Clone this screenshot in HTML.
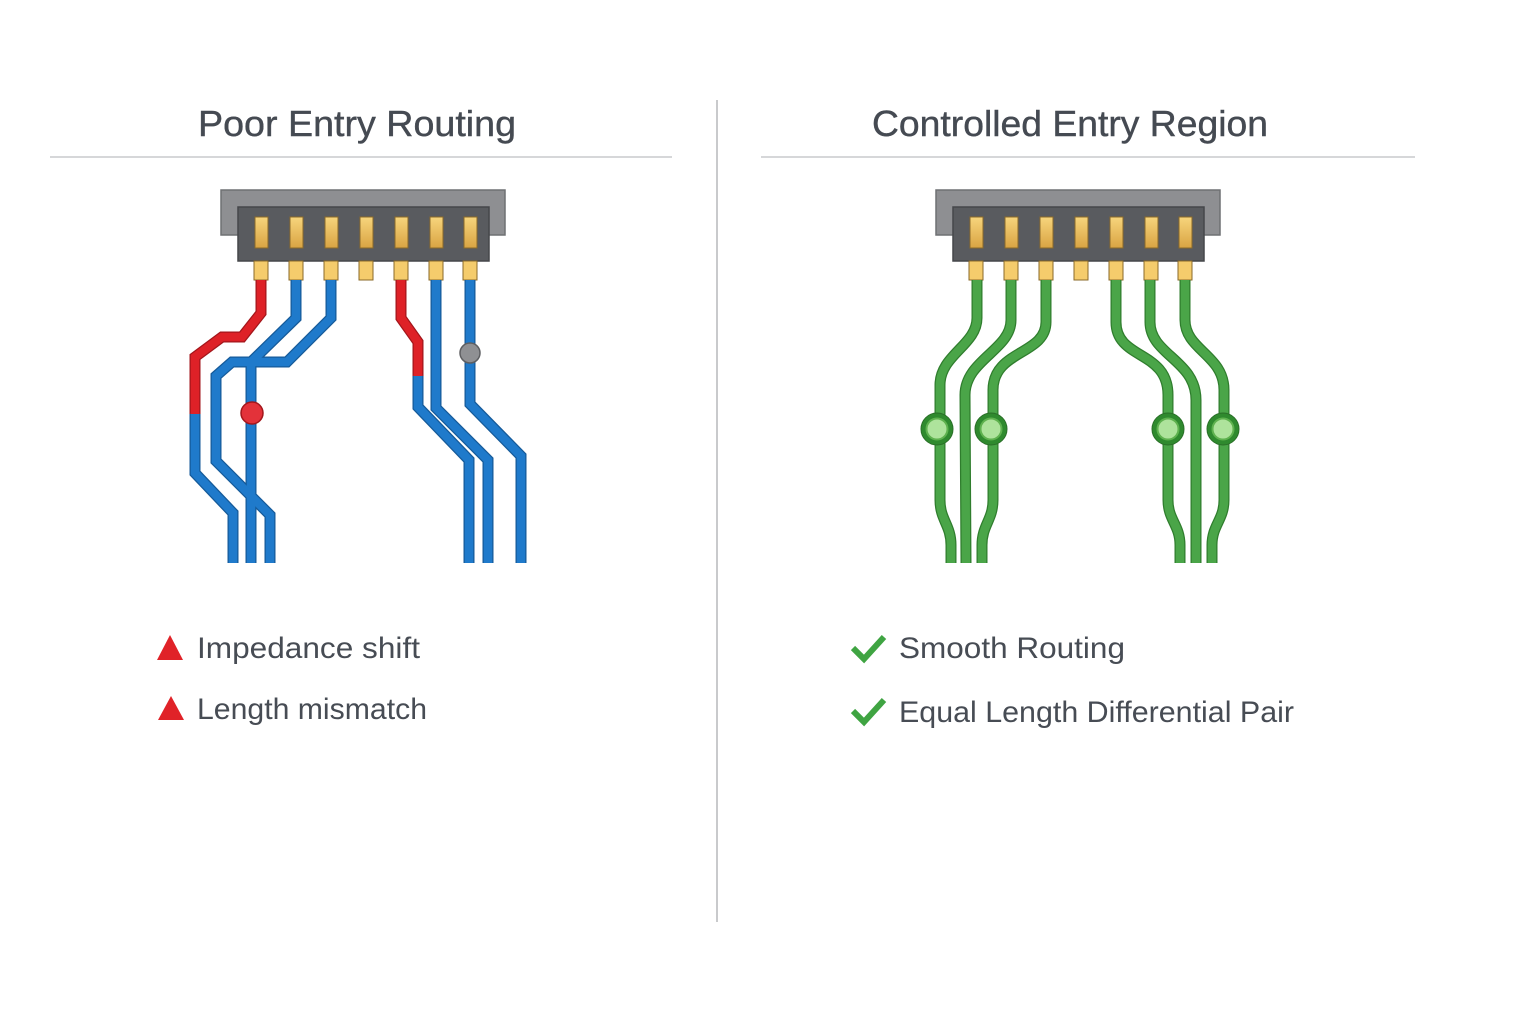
<!DOCTYPE html>
<html><head><meta charset="utf-8"><style>
html,body{margin:0;padding:0;background:#fff;}
svg{display:block;}
text{font-family:"Liberation Sans",sans-serif;fill:#474c54;}
</style></head><body>
<svg width="1536" height="1024" viewBox="0 0 1536 1024" xmlns="http://www.w3.org/2000/svg">
<defs>
<linearGradient id="pin" x1="0" y1="0" x2="0" y2="1"><stop offset="0" stop-color="#f7d57c"/><stop offset="1" stop-color="#d9a443"/></linearGradient>
<g id="conn">
  <rect x="221" y="190" width="284" height="45" fill="#8e8f92" stroke="#6f7073" stroke-width="1.5"/>
  <rect x="238" y="207" width="251" height="54" fill="#595b5f" stroke="#45474a" stroke-width="1.5"/>
  <g stroke="#8a6a2a" stroke-width="1" fill="url(#pin)">
    <rect x="255" y="217" width="13" height="31"/><rect x="290" y="217" width="13" height="31"/>
    <rect x="325" y="217" width="13" height="31"/><rect x="360" y="217" width="13" height="31"/>
    <rect x="395" y="217" width="13" height="31"/><rect x="430" y="217" width="13" height="31"/>
    <rect x="464" y="217" width="13" height="31"/>
  </g>
  <g stroke="#8a6a2a" stroke-width="1" fill="#f5cc6c">
    <rect x="254" y="261" width="14" height="19"/><rect x="289" y="261" width="14" height="19"/>
    <rect x="324" y="261" width="14" height="19"/><rect x="359" y="261" width="14" height="19"/>
    <rect x="394" y="261" width="14" height="19"/><rect x="429" y="261" width="14" height="19"/>
    <rect x="463" y="261" width="14" height="19"/>
  </g>
</g>
</defs>

<text x="357" y="136" font-size="36" text-anchor="middle" textLength="318" lengthAdjust="spacingAndGlyphs" style="fill:#454a52;stroke:#454a52;stroke-width:0.4">Poor Entry Routing</text>
<text x="1070" y="136" font-size="36" text-anchor="middle" textLength="396" lengthAdjust="spacingAndGlyphs" style="fill:#454a52;stroke:#454a52;stroke-width:0.4">Controlled Entry Region</text>
<line x1="50" y1="157" x2="672" y2="157" stroke="#d6d7d9" stroke-width="2"/>
<line x1="761" y1="157" x2="1415" y2="157" stroke="#d6d7d9" stroke-width="2"/>
<line x1="717" y1="100" x2="717" y2="922" stroke="#c9cacc" stroke-width="2"/>

<use href="#conn"/>
<g fill="none" stroke-linejoin="miter" stroke-linecap="butt">
  <g stroke="#155a99" stroke-width="11">
    <polyline points="195,413 195,473 233,513 233,563"/>
    <polyline points="296,280 296,318 251,362 251,563"/>
    <polyline points="331,280 331,318 287,362 232,362 216,376 216,461 270,515 270,563"/>
    <polyline points="418,375 418,407 469,460 469,563"/>
    <polyline points="436,280 436,408 488,460 488,563"/>
    <polyline points="470,280 470,404 521,456 521,563"/>
  </g>
  <g stroke="#a3161b" stroke-width="11">
    <polyline points="261,280 261,313 242,337 222,337 195,357 195,414"/>
    <polyline points="401,280 401,318 418,342 418,376"/>
  </g>
  <g stroke="#1f7acb" stroke-width="8.5">
    <polyline points="195,413 195,473 233,513 233,563"/>
    <polyline points="296,280 296,318 251,362 251,563"/>
    <polyline points="331,280 331,318 287,362 232,362 216,376 216,461 270,515 270,563"/>
    <polyline points="418,375 418,407 469,460 469,563"/>
    <polyline points="436,280 436,408 488,460 488,563"/>
    <polyline points="470,280 470,404 521,456 521,563"/>
  </g>
  <g stroke="#de2127" stroke-width="8.5">
    <polyline points="261,280 261,313 242,337 222,337 195,357 195,414"/>
    <polyline points="401,280 401,318 418,342 418,376"/>
  </g>
</g>
<circle cx="252" cy="413" r="11" fill="#e3323a" stroke="#a3161b" stroke-width="1.5"/>
<circle cx="470" cy="353" r="10" fill="#8f9093" stroke="#5e5f62" stroke-width="1.5"/>

<use href="#conn" transform="translate(715,0)"/>
<g fill="none" stroke-linecap="butt">
  <g id="gt">
    <path d="M977,280 V318 C977,345 940,355 940,385 V500 C940,520 951,525 951,545 V563"/>
    <path d="M1011,280 V320 C1011,350 965,360 965,395 L966,563"/>
    <path d="M1046,280 V322 C1046,355 993,350 993,390 V500 C993,520 982,525 982,545 V563"/>
    <path d="M1116,280 V322 C1116,360 1168,350 1168,395 V500 C1168,520 1180,525 1180,545 V563"/>
    <path d="M1150,280 V322 C1150,355 1196,360 1196,400 V563"/>
    <path d="M1185,280 V320 C1185,350 1224,355 1224,390 V500 C1224,520 1212,525 1212,545 V563"/>
  </g>
</g>
<use href="#gt" stroke="#2f7d2d" stroke-width="11" fill="none"/>
<use href="#gt" stroke="#4aa548" stroke-width="8.5" fill="none"/>
<g fill="#2f8a2e" stroke="#2a6f28" stroke-width="1">
  <circle cx="937" cy="429" r="16"/><circle cx="991" cy="429" r="16"/>
  <circle cx="1168" cy="429" r="16"/><circle cx="1223" cy="429" r="16"/>
</g>
<g fill="#aee39c" stroke="#5fb24f" stroke-width="2">
  <circle cx="937" cy="429" r="10.5"/><circle cx="991" cy="429" r="10.5"/>
  <circle cx="1168" cy="429" r="10.5"/><circle cx="1223" cy="429" r="10.5"/>
</g>

<polygon points="170,635 183,660 157,660" fill="#e02228"/>
<polygon points="171,696 184,720 158,720" fill="#e02228"/>
<text x="197" y="658" font-size="30" textLength="223" lengthAdjust="spacingAndGlyphs">Impedance shift</text>
<text x="197" y="719" font-size="30" textLength="230" lengthAdjust="spacingAndGlyphs">Length mismatch</text>
<polyline points="853,648 864,659 884,637" fill="none" stroke="#3fa442" stroke-width="6"/>
<polyline points="853,711 864,722 884,700" fill="none" stroke="#3fa442" stroke-width="6"/>
<text x="899" y="658" font-size="30" textLength="226" lengthAdjust="spacingAndGlyphs">Smooth Routing</text>
<text x="899" y="722" font-size="30" textLength="395" lengthAdjust="spacingAndGlyphs">Equal Length Differential Pair</text>
</svg>
</body></html>
